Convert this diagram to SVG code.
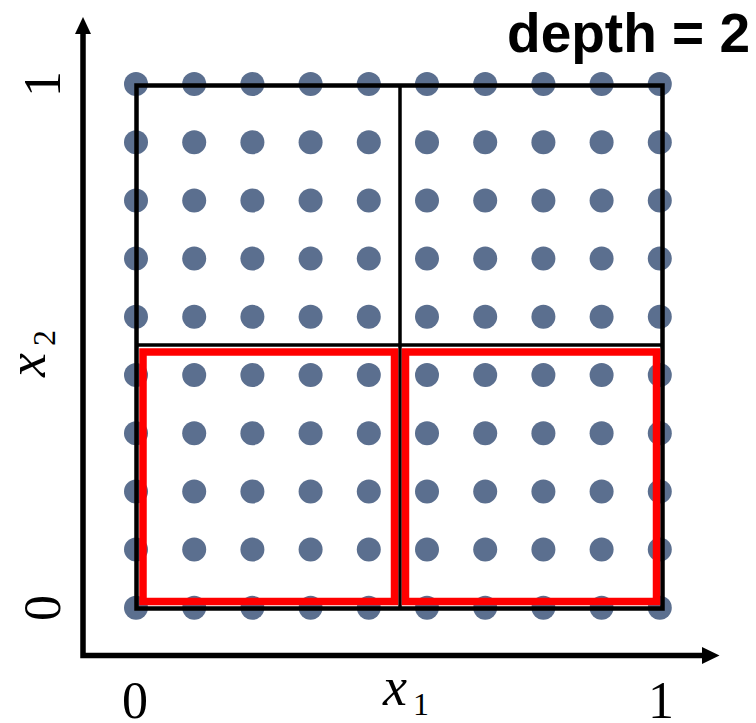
<svg xmlns="http://www.w3.org/2000/svg" xmlns:xlink="http://www.w3.org/1999/xlink" width="756" height="723" viewBox="0 0 756 723">
<style>
.dot{fill:#5B6F8F}
.blk{fill:none;stroke:#000;stroke-width:4.5}
.mid{fill:none;stroke:#000;stroke-width:3.5}
.red{fill:none;stroke:#FF0000;stroke-width:7.5}
.axis{fill:none;stroke:#000;stroke-width:5.5}
.num{font-family:"Liberation Serif",serif;font-size:52px;fill:#000}
.var{font-family:"Liberation Serif",serif;font-style:italic;font-size:54px;fill:#000}
.sub{font-family:"Liberation Serif",serif;font-size:32px;fill:#000}
.title{font-family:"Liberation Sans",sans-serif;font-weight:bold;font-size:55px;fill:#000}
</style>
<defs>
<circle id="d" r="12" class="dot"/>
<g id="row">
<use xlink:href="#d" x="136" y="0"/><use xlink:href="#d" x="194.2" y="0"/><use xlink:href="#d" x="252.4" y="0"/><use xlink:href="#d" x="310.6" y="0"/><use xlink:href="#d" x="368.8" y="0"/><use xlink:href="#d" x="427" y="0"/><use xlink:href="#d" x="485.2" y="0"/><use xlink:href="#d" x="543.4" y="0"/><use xlink:href="#d" x="601.6" y="0"/><use xlink:href="#d" x="659.8" y="0"/>
</g>
</defs>
<rect width="756" height="723" fill="#fff"/>
<g id="dots">
<use xlink:href="#row" y="84"/><use xlink:href="#row" y="142.2"/><use xlink:href="#row" y="200.4"/><use xlink:href="#row" y="258.6"/><use xlink:href="#row" y="316.8"/><use xlink:href="#row" y="375"/><use xlink:href="#row" y="433.2"/><use xlink:href="#row" y="491.4"/><use xlink:href="#row" y="549.6"/><use xlink:href="#row" y="607.8"/>
</g>
<g id="cells">
<rect class="blk" x="136.5" y="85.5" width="526" height="523"/>
<line class="mid" x1="400" y1="85.5" x2="400" y2="608.5"/>
<line class="mid" x1="136.5" y1="345" x2="662.5" y2="345"/>
</g>
<g id="selected">
<rect class="red" x="143" y="352" width="251.5" height="249.5"/>
<rect class="red" x="405.5" y="352" width="251" height="249.5"/>
</g>
<g id="axes">
<polyline class="axis" points="83,32 83,655.5 704,655.5"/>
<polygon points="83,17 75,34 91,34" fill="#000"/>
<polygon points="719.5,655.5 702,647 702,664" fill="#000"/>
</g>
<g id="labels">
<text class="num" x="135" y="718" text-anchor="middle">0</text>
<text class="num" x="661" y="718" text-anchor="middle">1</text>
<text class="num" transform="translate(60,608) rotate(-90)" text-anchor="middle">0</text>
<text class="num" transform="translate(60,84) rotate(-90)" text-anchor="middle">1</text>
<text class="var" x="383" y="705">x</text>
<text class="sub" x="413" y="715">1</text>
<g transform="translate(45,377) rotate(-90)">
<text class="var" x="0" y="0">x</text>
<text class="sub" x="31" y="10">2</text>
</g>
<text class="title" x="750" y="52" text-anchor="end">depth = 2</text>
</g>
</svg>
